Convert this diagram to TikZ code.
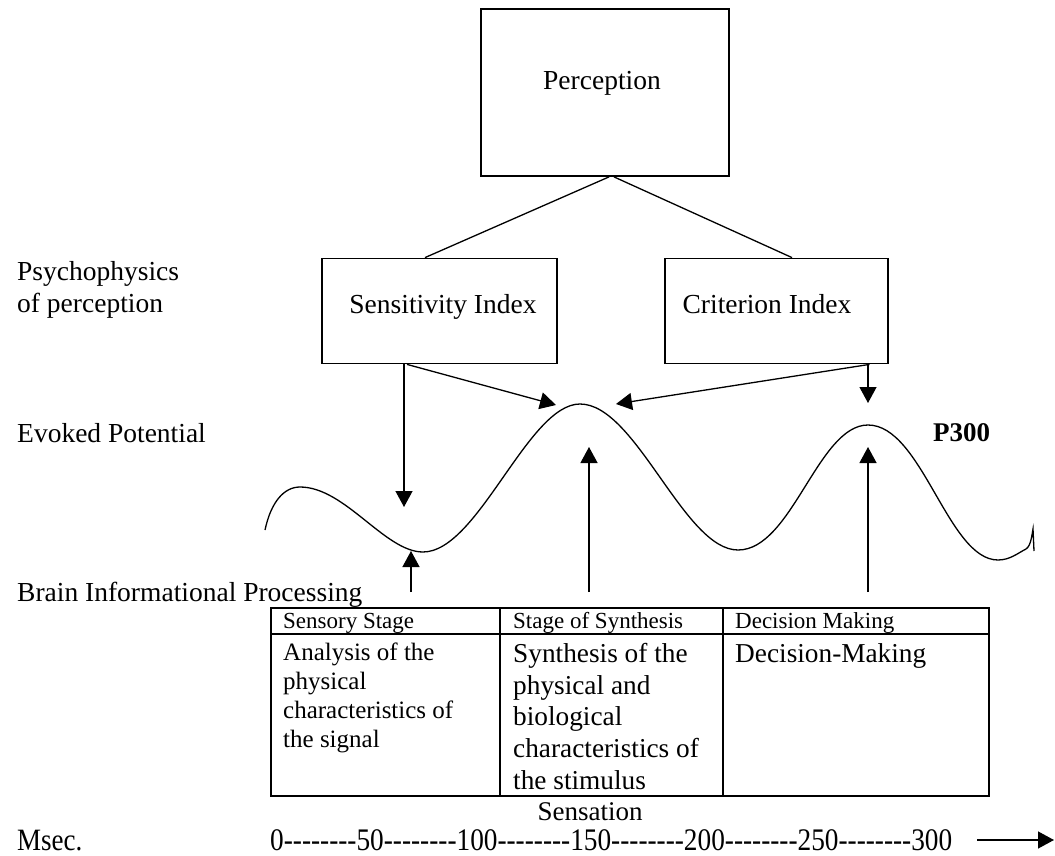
\documentclass[tikz,border=0pt]{standalone}
\usepackage{fontspec}
\setmainfont{Liberation Serif}
\newfontfamily\axisfont{Liberation Serif}[Ligatures=TeXOff]
\usetikzlibrary{arrows.meta,calc}
\newcommand\myfs[2]{\fontsize{#1}{#2}\selectfont}
\begin{document}
\begin{tikzpicture}[x=1pt,y=-1pt,
  box/.style={draw, line width=1.8pt, rectangle, inner sep=0pt},
  conn/.style={line width=1.3pt},
  arr/.style={line width=1.3pt, -{Triangle[length=16pt,width=17pt]}},
  lbl/.style={anchor=base west, inner sep=0pt, font=\myfs{27.5}{32}},
  tbl/.style={line width=1.8pt},
  hdr/.style={anchor=base west, inner sep=0pt, font=\myfs{23}{27}},
  cell/.style={anchor=north west, inner sep=0pt, align=left},
  wave/.style={line width=1.3pt},
]
\useasboundingbox (0,0) rectangle (1055,856);

% boxes
\node[box, minimum width=248pt, minimum height=167pt] (perc) at (605,92.5) {};
\node[box, minimum width=235pt, minimum height=105pt] (sens) at (439.5,311) {};
\node[box, minimum width=223pt, minimum height=105pt] (crit) at (776.5,311) {};

\node[lbl, anchor=base] (ptxt) at (602,90) {Perception};
\node[lbl, anchor=base] (stxt) at (443,313) {Sensitivity Index};
\node[lbl, anchor=base] (ctxt) at (767,313) {Criterion Index};

% left labels
\node[lbl] (psy1) at (17,280) {Psychophysics};
\node[lbl] (psy2) at (17,312) {of perception};
\node[lbl] (evk) at (17,442) {Evoked Potential};
\node[lbl] (bip) at (17,601) {Brain Informational Processing};
\node[lbl, font=\bfseries\myfs{27}{32}] (p300) at (933,441) {P300};

% tree lines
\draw[conn] ($(perc.south)+(4,0)$) -- ($(sens.north)+(-14.5,0)$);
\draw[conn] ($(perc.south)+(9,0)$) -- ($(crit.north)+(15.5,0)$);

% wave
\coordinate (w0) at (265,530);
\coordinate (wpk0) at (300,487);
\coordinate (wmin1) at (423,552);
\coordinate (wpk1) at (580,404);
\coordinate (wmin2) at (738,550);
\coordinate (wpk2) at (868,425);
\coordinate (wmin3) at (998,560);
\draw[wave] (w0) .. controls (271,502) and (284,487) .. (wpk0)
  .. controls (345,487) and (385,552) .. (wmin1)
  .. controls (478,552) and (528,404) .. (wpk1)
  .. controls (636,404) and (684,550) .. (wmin2)
  .. controls (792,550) and (818,425) .. (wpk2)
  .. controls (922,425) and (948,560) .. (wmin3)
  .. controls (1010,560) and (1018,553) .. (1026,549)
  .. controls (1031,546) and (1032,534) .. (1033,529)
  -- (1034,551);

% arrow tips
\coordinate (tA) at (404,507);
\coordinate (tB) at (556,405);
\coordinate (tC) at (616,404);
\coordinate (tD) at (868,403);
\draw[arr] ($(sens.south)+(-35.5,0)$) -- (tA);
\draw[arr] ($(sens.south)+(-32.5,0)$) -- (tB);
\draw[arr] ($(crit.south)+(93,0)$) -- (tC);
\draw[arr] ($(crit.south)+(91.5,0)$) -- (tD);

% up arrows
\coordinate (uA0) at (411,592);
\coordinate (uA) at (411,551);
\coordinate (uB0) at (589,592);
\coordinate (uB) at (589,447);
\coordinate (uC0) at (868,592);
\coordinate (uC) at (868,447);
\draw[arr] (uA0) -- (uA);
\draw[arr] (uB0) -- (uB);
\draw[arr] (uC0) -- (uC);

% table
\draw[tbl] (271,608) rectangle (989,796);
\draw[tbl] (271,634) -- (989,634);
\draw[tbl] (500,608) -- (500,796);
\draw[tbl] (723,608) -- (723,796);
\node[hdr] (h1) at (283,628) {Sensory Stage};
\node[hdr] (h2) at (513,628) {Stage of Synthesis};
\node[hdr] (h3) at (735,628) {Decision Making};
\node[cell, font=\myfs{25}{29}] (c1) at (283,643) {Analysis of the\\physical\\characteristics of\\the signal};
\node[cell, font=\myfs{27.3}{31.7}] (c2) at (513,643) {Synthesis of the\\physical and\\biological\\characteristics of\\the stimulus};
\node[cell, font=\myfs{27.3}{31.7}] (c3) at (735,643) {Decision-Making};

% bottom axis
\node[lbl, anchor=base, font=\myfs{27}{32}] (sen) at (590,820) {Sensation};
\node[lbl, font=\myfs{27}{32}] (msec) at (17,850) {\scalebox{1}[1.15]{Msec.}};
\node[lbl, font=\axisfont\myfs{27.3}{32}] (axis) at (270,850) {\scalebox{1}[1.15]{0--------50--------100--------150--------200--------250--------300}};
\coordinate (ax0) at (977,840);
\coordinate (ax1) at (1054,840);
\draw[arr] (ax0) -- (ax1);
\end{tikzpicture}
\end{document}
